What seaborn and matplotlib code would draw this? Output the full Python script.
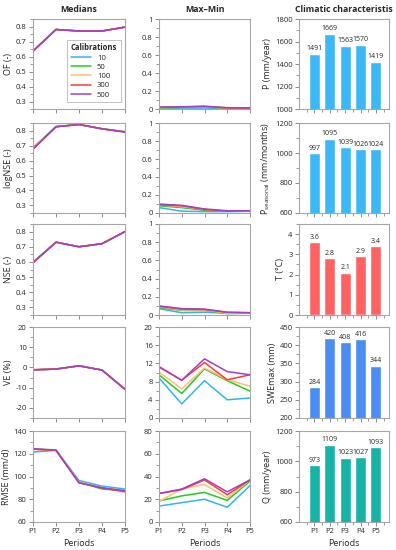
import numpy as np
import pandas as pd
import matplotlib
matplotlib.use("Agg")
import matplotlib.pyplot as plt
import seaborn as sns
from matplotlib.ticker import MultipleLocator, FixedLocator

# data
periods = ["P1", "P2", "P3", "P4", "P5"]
calibrations = [10, 50, 100, 300, 500]
cal_colors = ["#33B4F2", "#22CC22", "#FFBE73", "#FF3B3B", "#A33FC4"]

# medians, one row per calibration (10, 50, 100, 300, 500)
of_median = [
    [0.636, 0.780, 0.770, 0.769, 0.796],
    [0.636, 0.780, 0.770, 0.770, 0.796],
    [0.636, 0.780, 0.770, 0.770, 0.796],
    [0.636, 0.780, 0.770, 0.770, 0.796],
    [0.636, 0.780, 0.770, 0.770, 0.796],
]
lognse_median = [
    [0.686, 0.826, 0.840, 0.812, 0.792],
    [0.680, 0.826, 0.840, 0.812, 0.791],
    [0.678, 0.825, 0.840, 0.811, 0.790],
    [0.676, 0.825, 0.840, 0.811, 0.790],
    [0.675, 0.825, 0.840, 0.811, 0.790],
]
nse_median = [
    [0.600, 0.730, 0.700, 0.720, 0.800],
    [0.597, 0.730, 0.700, 0.720, 0.800],
    [0.595, 0.730, 0.700, 0.720, 0.800],
    [0.594, 0.730, 0.700, 0.720, 0.800],
    [0.594, 0.730, 0.700, 0.720, 0.800],
]
ve_median = [
    [-1.3, -0.8, 0.8, -1.2, -10.8],
    [-1.2, -0.8, 0.8, -1.3, -10.8],
    [-1.2, -0.8, 0.9, -1.3, -10.8],
    [-1.2, -0.8, 0.8, -1.3, -10.8],
    [-1.1, -0.8, 0.8, -1.3, -10.8],
]
rmse_median = [
    [121.5, 123.0, 96.5, 91.5, 89.0],
    [124.0, 123.5, 95.0, 89.0, 87.5],
    [124.0, 123.0, 95.0, 90.0, 87.5],
    [124.0, 123.0, 94.5, 90.0, 86.5],
    [124.5, 123.0, 94.5, 90.0, 87.5],
]

# max - min spread
of_range = [
    [0.005, 0.010, 0.010, 0.008, 0.005],
    [0.010, 0.018, 0.020, 0.010, 0.008],
    [0.015, 0.020, 0.025, 0.012, 0.010],
    [0.020, 0.022, 0.030, 0.012, 0.010],
    [0.020, 0.025, 0.030, 0.015, 0.010],
]
lognse_range = [
    [0.060, 0.020, 0.015, 0.015, 0.020],
    [0.080, 0.060, 0.030, 0.020, 0.020],
    [0.090, 0.070, 0.040, 0.020, 0.020],
    [0.090, 0.080, 0.040, 0.020, 0.025],
    [0.100, 0.085, 0.045, 0.025, 0.025],
]
nse_range = [
    [0.070, 0.025, 0.030, 0.020, 0.020],
    [0.080, 0.050, 0.050, 0.015, 0.020],
    [0.090, 0.055, 0.055, 0.020, 0.020],
    [0.095, 0.065, 0.060, 0.030, 0.025],
    [0.100, 0.070, 0.065, 0.030, 0.025],
]
ve_range = [
    [8.8, 3.1, 8.2, 4.0, 4.4],
    [9.5, 5.4, 10.8, 8.2, 5.9],
    [10.1, 6.4, 11.0, 8.4, 7.0],
    [11.3, 8.3, 12.2, 8.4, 9.5],
    [11.2, 8.3, 13.0, 10.2, 9.5],
]
rmse_range = [
    [14.0, 17.0, 20.0, 13.0, 32.0],
    [18.5, 23.0, 26.0, 19.0, 36.0],
    [18.0, 29.0, 33.0, 21.0, 37.0],
    [25.0, 28.5, 37.0, 24.0, 37.0],
    [25.0, 29.0, 38.0, 26.5, 37.0],
]

# climatic characteristics
p_year = [1491, 1669, 1563, 1570, 1419]
p_seasonal = [997, 1095, 1039, 1026, 1024]
temp = [3.6, 2.8, 2.1, 2.9, 3.4]
swe_max = [284, 420, 408, 416, 344]
q_year = [973, 1109, 1023, 1027, 1093]

sns.set_theme(style="white")
plt.rcParams["font.family"] = ["Open Sans", "DejaVu Sans"]
plt.rcParams["mathtext.fontset"] = "custom"
plt.rcParams["mathtext.rm"] = "Open Sans"

W, H = 396, 550
fig = plt.figure(figsize=(W / 100, H / 100), dpi=100)
fig.patch.set_facecolor("white")

col_x = [(33, 125), (159, 250), (299, 389)]
row_y = [(19, 109), (123, 213), (224, 315), (327, 418), (431, 522)]


def make_ax(c, r):
    x0, x1 = col_x[c]
    y0, y1 = row_y[r]
    ax = fig.add_axes([x0 / W, 1 - y1 / H, (x1 - x0) / W, (y1 - y0) / H])
    for s in ax.spines.values():
        s.set_color("#A6A6A6")
        s.set_linewidth(0.8)
    ax.tick_params(axis="both", which="both", direction="out", color="#8C8C8C",
                   labelsize=5.5, labelcolor="#262626", pad=1.5,
                   bottom=True, left=True, top=False, right=False)
    ax.tick_params(which="major", length=3, width=0.7)
    ax.tick_params(which="minor", length=2, width=0.6)
    return ax


def style_y(ax, lim, major, minor, fmt=None):
    ax.set_ylim(*lim)
    ax.yaxis.set_major_locator(MultipleLocator(major))
    ax.yaxis.set_minor_locator(MultipleLocator(minor))
    if fmt is not None:
        ax.yaxis.set_major_formatter(fmt)


def draw_lines(ax, series):
    for cal, col, vals in zip(calibrations, cal_colors, series):
        sns.lineplot(x=list(range(5)), y=vals, color=col, linewidth=1.1,
                     label=str(cal), ax=ax, legend=False)
    ax.set_xlim(0, 4)
    ax.set_xticks(range(5))


def trim(v, pos):
    return f"{v:g}"


median_specs = [
    (of_median, "OF (-)", (0.25, 0.85), 0.1, 0.05),
    (lognse_median, "logNSE (-)", (0.25, 0.85), 0.1, 0.05),
    (nse_median, "NSE (-)", (0.25, 0.85), 0.1, 0.05),
    (ve_median, "VE (%)", (-25, 20), 10, 5),
    (rmse_median, "RMSE (mm/d)", (60, 140), 20, 10),
]
range_specs = [
    (of_range, (0, 1), 0.2, 0.1),
    (lognse_range, (0, 1), 0.2, 0.1),
    (nse_range, (0, 1), 0.2, 0.1),
    (ve_range, (0, 20), 4, 2),
    (rmse_range, (0, 80), 20, 10),
]
clim_specs = [
    (p_year, "P (mm/year)", (1000, 1800), 200, 100, "#3DB8F7", "{:d}"),
    (p_seasonal, r"P$_{\mathregular{seasonal}}$ (mm/months)", (600, 1200), 200, 100, "#3DB8F7", "{:d}"),
    (temp, "T (°C)", (0, 4.5), 1, 0.5, "#FF6262", "{:.1f}"),
    (swe_max, "SWEmax (mm)", (200, 450), 50, 25, "#4A8EF2", "{:d}"),
    (q_year, "Q (mm/year)", (600, 1200), 200, 100, "#16B3A6", "{:d}"),
]

for r in range(5):
    # medians
    ax = make_ax(0, r)
    series, ylab, lim, mj, mn = median_specs[r]
    draw_lines(ax, series)
    style_y(ax, lim, mj, mn, plt.FuncFormatter(trim) if r >= 3 else None)
    if r < 3:
        ax.yaxis.set_major_locator(FixedLocator([0.3, 0.4, 0.5, 0.6, 0.7, 0.8]))
    ax.set_ylabel(ylab, fontsize=6.5, labelpad=2, color="#262626")
    if r == 0:
        ax.set_title("Medians", fontsize=6.3, fontweight="bold", pad=5)
        leg = ax.legend(title="Calibrations", loc="lower right", fontsize=5.5,
                        title_fontsize=5.5, frameon=True, handlelength=2.6,
                        labelspacing=0.25, borderpad=0.5, fancybox=False,
                        bbox_to_anchor=(1.0, 0.03))
        leg.get_title().set_fontweight("bold")
        leg.get_frame().set_edgecolor("#A6A6A6")
        leg.get_frame().set_linewidth(0.6)
        leg._legend_box.align = "left"
    if r == 4:
        ax.set_xticklabels(periods)
        ax.set_xlabel("Periods", fontsize=6.5, labelpad=3, color="#262626")
    else:
        ax.set_xticklabels([])

    # max - min
    ax = make_ax(1, r)
    series, lim, mj, mn = range_specs[r]
    draw_lines(ax, series)
    style_y(ax, lim, mj, mn, plt.FuncFormatter(trim))
    if r == 0:
        ax.set_title("Max\u2013Min", fontsize=6.3, fontweight="bold", pad=5)
    if r == 4:
        ax.set_xticklabels(periods)
        ax.set_xlabel("Periods", fontsize=6.5, labelpad=3, color="#262626")
    else:
        ax.set_xticklabels([])

    # climatic characteristics
    ax = make_ax(2, r)
    vals, ylab, lim, mj, mn, col, fmt = clim_specs[r]
    sns.barplot(x=periods, y=vals, color=col, saturation=1, width=0.72, ax=ax)
    ax.bar_label(ax.containers[0], labels=[fmt.format(v) for v in vals],
                 fontsize=5, padding=1, color="#262626")
    style_y(ax, lim, mj, mn, plt.FuncFormatter(trim))
    ax.set_xlim(-1.0, 4.85)
    ax.set_xticks(range(5))
    ax.xaxis.set_minor_locator(FixedLocator([-0.5, 0.5, 1.5, 2.5, 3.5, 4.5]))
    ax.set_ylabel(ylab, fontsize=6.5, labelpad=2, color="#262626")
    if r == 0:
        ax.set_title("Climatic characteristis", fontsize=6.3, fontweight="bold", pad=5)
    if r == 4:
        ax.set_xticklabels(periods)
        ax.set_xlabel("Periods", fontsize=6.5, labelpad=3, color="#262626")
    else:
        ax.set_xticklabels([])
        ax.set_xlabel("")

fig.savefig("out.png", dpi=100, facecolor="white")
